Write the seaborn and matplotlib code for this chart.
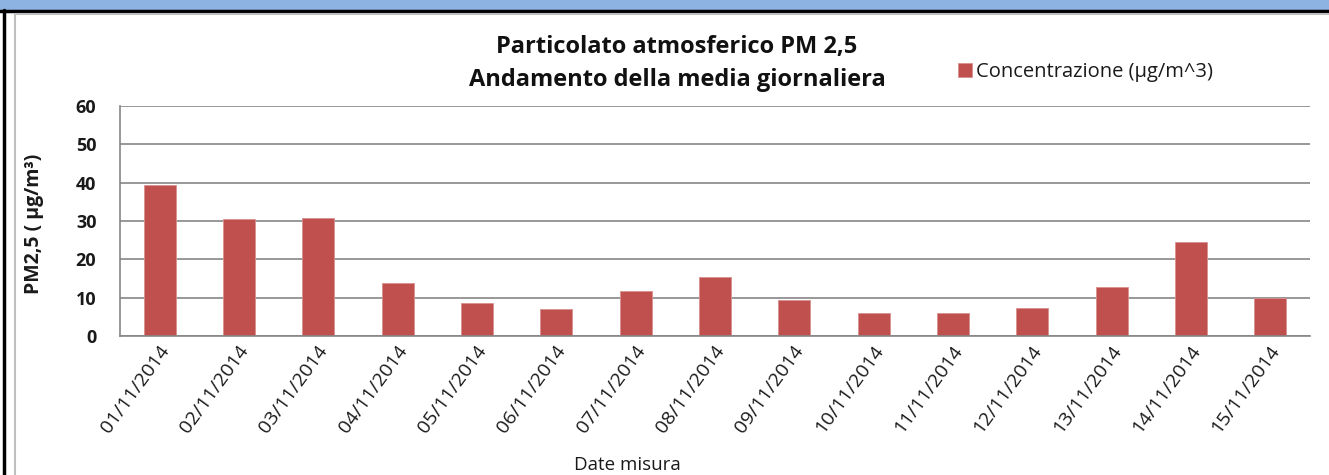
import matplotlib
matplotlib.use('Agg')
import matplotlib.pyplot as plt
import matplotlib.transforms as mtransforms
from matplotlib.patches import Rectangle
from matplotlib.lines import Line2D
from matplotlib.ticker import FixedLocator
import seaborn as sns

# Data
dates = ['01/11/2014', '02/11/2014', '03/11/2014', '04/11/2014', '05/11/2014',
         '06/11/2014', '07/11/2014', '08/11/2014', '09/11/2014', '10/11/2014',
         '11/11/2014', '12/11/2014', '13/11/2014', '14/11/2014', '15/11/2014']
pm25 = [39.3, 30.5, 30.9, 13.8, 8.5, 7.0, 11.7, 15.4, 9.3, 6.1, 6.1, 7.2, 12.9, 24.4, 9.8]
y_ticks = [0, 10, 20, 30, 40, 50, 60]

title = 'Particolato atmosferico PM 2,5\nAndamento della media giornaliera'
legend_label = 'Concentrazione (µg/m^3)'
y_label = 'PM2,5 ( µg/m³)'
x_label = 'Date misura'

bar_color = '#C0504D'
grid_color = '#868686'
text_color = '#1a1a1a'

sns.set_theme(style='white')
plt.rcParams['font.family'] = ['Open Sans', 'DejaVu Sans']

W, H = 1329, 475
fig = plt.figure(figsize=(W / 100, H / 100), dpi=100)
ax = fig.add_axes([120 / W, 1 - 336 / H, (1310 - 120) / W, (336 - 106) / H])

sns.barplot(x=dates, y=pm25, color=bar_color, saturation=1, width=0.4,
            label=legend_label, ax=ax, edgecolor='#D9908E', linewidth=0.6)

ax.set_xlim(-0.5, len(dates) - 0.5)
ax.set_ylim(0, 60)
ax.set_yticks(y_ticks)
ax.set_yticklabels([str(t) for t in y_ticks], fontsize=13, fontweight='bold', color=text_color)
ax.yaxis.grid(True, color=grid_color, linewidth=1.2)
ax.set_axisbelow(True)

# tick marks between categories, labels at category centres
ax.xaxis.set_minor_locator(FixedLocator([i - 0.5 for i in range(len(dates) + 1)]))
ax.tick_params(axis='x', which='minor', length=6, width=1, color=grid_color, direction='out')
ax.tick_params(axis='x', which='major', length=0, pad=4)
ax.tick_params(axis='y', which='major', length=6, width=1, color=grid_color, direction='out', pad=11)
ax.set_xticks(range(len(dates)))
ax.set_xticklabels(dates, rotation=54, ha='right', va='center', rotation_mode='anchor',
                   fontsize=14, color=text_color)
shift = mtransforms.ScaledTranslation(6 / 100, -6 / 100, fig.dpi_scale_trans)
for lbl in ax.get_xticklabels():
    lbl.set_transform(lbl.get_transform() + shift)

for s in ['top', 'right']:
    ax.spines[s].set_visible(False)
for s in ['left', 'bottom']:
    ax.spines[s].set_color(grid_color)
    ax.spines[s].set_linewidth(1.2)

ax.set_xlabel('')
ax.set_ylabel('')
fig.text(627 / W, 1 - 465 / H, x_label, ha='center', va='center', fontsize=13.5, color=text_color)
fig.text(34 / W, 1 - 224 / H, y_label, ha='center', va='center', rotation=90,
         fontsize=14, fontweight='bold', color=text_color)
fig.text(677 / W, 1 - 63 / H, title, ha='center', va='center', fontsize=17,
         fontweight='bold', linespacing=1.5, color='#111111')

leg = ax.legend(loc='center left', bbox_to_anchor=(958 / W, 1 - 72 / H), bbox_transform=fig.transFigure,
                frameon=False, fontsize=14.5, handlelength=0.7, handleheight=0.7,
                handletextpad=0.2, borderpad=0, borderaxespad=0)
for t in leg.get_texts():
    t.set_color(text_color)

# sheet decorations: blue banner, black frame, grey chart border
fig.patches.append(Rectangle((0, 1 - 10 / H), 1, 10 / H, transform=fig.transFigure,
                             facecolor='#8DB3E2', edgecolor='none', zorder=0))
fig.lines.append(Line2D([0, 1], [1 - 11 / H, 1 - 11 / H], transform=fig.transFigure,
                        color='black', linewidth=2.5))
fig.lines.append(Line2D([4 / W, 4 / W], [0, 1 - 10 / H], transform=fig.transFigure,
                        color='black', linewidth=2.5))
fig.lines.append(Line2D([15 / W, 15 / W], [0, 1 - 14 / H], transform=fig.transFigure,
                        color='#BFBFBF', linewidth=1.5))
fig.lines.append(Line2D([15 / W, 1], [1 - 14 / H, 1 - 14 / H], transform=fig.transFigure,
                        color='#BFBFBF', linewidth=1.5))

fig.savefig('out.png', dpi=100)
